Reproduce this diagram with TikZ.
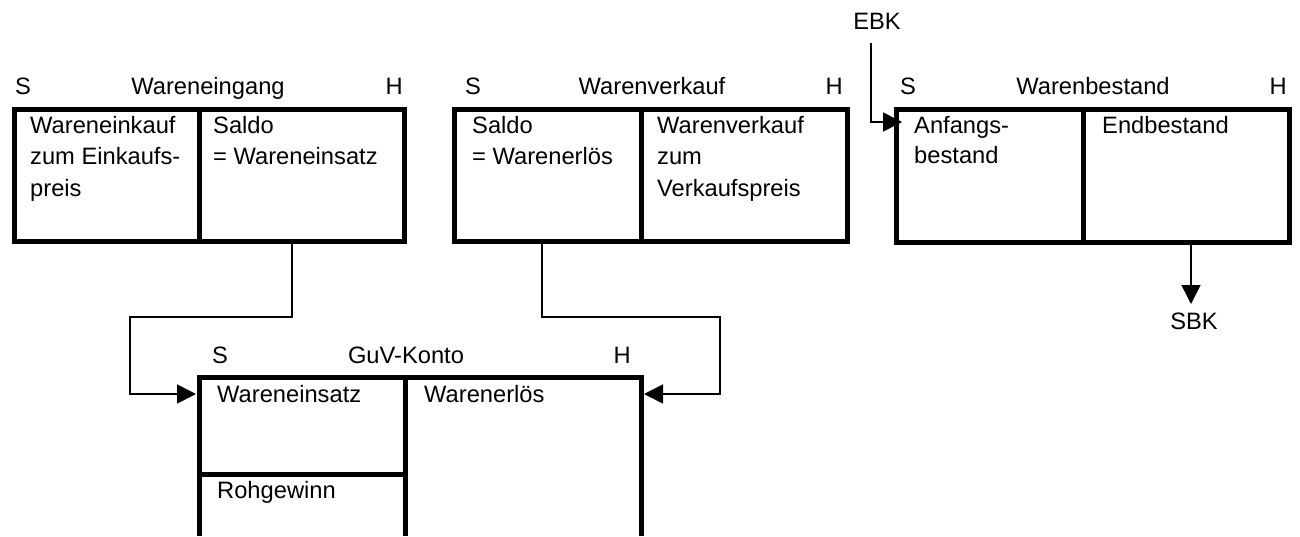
\documentclass[tikz,border=0pt]{standalone}
\usepackage{fontspec}
\setmainfont{Liberation Sans}
\usetikzlibrary{arrows.meta}
\begin{document}
\begin{tikzpicture}[x=1pt,y=-1pt,
  acct/.style={line width=5pt, line join=miter},
  conn/.style={line width=1.6pt},
  arr/.style={conn,-{Triangle[length=19pt,width=19pt]}},
  txt/.style={inner sep=0pt, anchor=base west, font=\fontsize{23.7}{28}\selectfont},
  rtxt/.style={inner sep=0pt, anchor=base east, font=\fontsize{23.7}{28}\selectfont},
  ctxt/.style={inner sep=0pt, anchor=base, font=\fontsize{23.7}{28}\selectfont}]
\useasboundingbox (0,0) rectangle (1300,536);

% ---------- Wareneingang ----------
\draw[acct] (14.5,109.5) rectangle (404.5,241);
\draw[acct] (199.5,109.5) -- (199.5,241);
\node[txt]  (weS) at (15,94.5) {S};
\node[ctxt] (weT) at (208,94.5) {Wareneingang};
\node[rtxt] (weH) at (403,94.5) {H};
\node[txt] (we1) at (30,133) {Wareneinkauf};
\node[txt] (we2) at (30,164.5) {zum Einkaufs-};
\node[txt] (we3) at (30,196) {preis};
\node[txt] (we4) at (213,133) {Saldo};
\node[txt] (we5) at (213,164.5) {= Wareneinsatz};

% ---------- Warenverkauf ----------
\draw[acct] (454.5,109.5) rectangle (847.5,241);
\draw[acct] (641,109.5) -- (641,241);
\node[txt]  (wvS) at (465,94.5) {S};
\node[ctxt] (wvT) at (652,94.5) {Warenverkauf};
\node[rtxt] (wvH) at (843,94.5) {H};
\node[txt] (wv1) at (472,133) {Saldo};
\node[txt] (wv2) at (472,164.5) {= Warenerlös};
\node[txt] (wv3) at (657,133) {Warenverkauf};
\node[txt] (wv4) at (657,164.5) {zum};
\node[txt] (wv5) at (657,196) {Verkaufspreis};

% ---------- Warenbestand ----------
\draw[acct] (896,109.5) rectangle (1289,242.5);
\draw[acct] (1083,109.5) -- (1083,242.5);
\node[txt]  (wbS) at (900,94.5) {S};
\node[ctxt] (wbT) at (1093,94.5) {Warenbestand};
\node[rtxt] (wbH) at (1287,94.5) {H};
\node[txt] (wb1) at (914,133) {Anfangs-};
\node[txt] (wb2) at (914,163.5) {bestand};
\node[txt] (wb3) at (1102,133) {Endbestand};

\node[ctxt] (EBK) at (877,29) {EBK};
\node[ctxt] (SBK) at (1194,329) {SBK};

% ---------- GuV-Konto ----------
\draw[acct] (199.5,536) -- (199.5,377.5) -- (641,377.5) -- (641,536);
\draw[acct] (405,377.5) -- (405,536);
\draw[acct] (199.5,474) -- (405,474);
\node[txt]  (gS) at (212,363) {S};
\node[ctxt] (gT) at (406,363) {GuV-Konto};
\node[rtxt] (gH) at (631,363) {H};
\node[txt] (g1) at (217,402) {Wareneinsatz};
\node[txt] (g2) at (424,402) {Warenerlös};
\node[txt] (g3) at (217,498) {Rohgewinn};

% ---------- connectors ----------
\coordinate (weOut) at (292,242);
\coordinate (wvOut) at (542,242);
\coordinate (guvL) at (196,394);
\coordinate (guvR) at (644,394);
\coordinate (ebkOut) at (871,43);
\coordinate (wbIn) at (902,122);
\coordinate (wbOut) at (1191,244);
\coordinate (sbkIn) at (1191,304);

\draw[arr] (weOut) |- (130,317) |- (guvL);
\draw[arr] (wvOut) |- (720,317) |- (guvR);
\draw[arr] (ebkOut) |- (wbIn);
\draw[arr] (wbOut) -- (sbkIn);
\end{tikzpicture}
\end{document}
